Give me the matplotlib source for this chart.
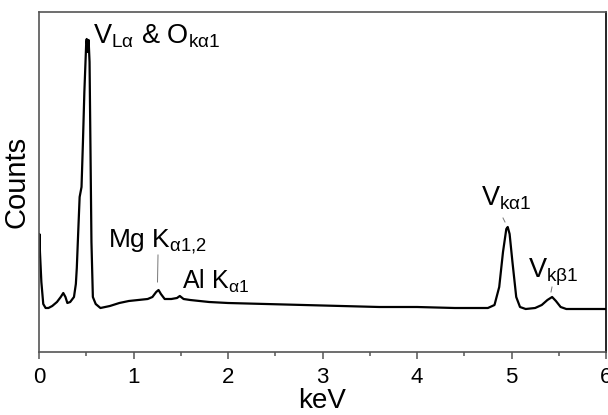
import matplotlib
matplotlib.use("Agg")
import matplotlib.pyplot as plt
from matplotlib.ticker import MultipleLocator

plt.rcParams['font.family'] = ['Liberation Sans', 'DejaVu Sans']
plt.rcParams['mathtext.fontset'] = 'custom'
plt.rcParams['mathtext.rm'] = 'Liberation Sans'
plt.rcParams['mathtext.it'] = 'Liberation Sans:italic'

# EDS spectrum (keV vs counts, arbitrary units)
energy_kev = [0.000, 0.004, 0.010, 0.025, 0.045, 0.07, 0.10, 0.14, 0.19, 0.23, 0.257, 0.28,
              0.30, 0.33, 0.37, 0.39, 0.40, 0.415, 0.43, 0.44, 0.45, 0.465, 0.48, 0.500,
              0.505, 0.515, 0.525, 0.535, 0.545, 0.555, 0.57, 0.60, 0.65, 0.75, 0.85, 0.95,
              1.05, 1.15, 1.20, 1.24, 1.265, 1.29, 1.33, 1.40, 1.46, 1.49, 1.53, 1.60, 1.80,
              2.00, 2.40, 2.80, 3.20, 3.60, 4.00, 4.40, 4.75, 4.82, 4.87, 4.91, 4.945, 4.96,
              4.98, 5.01, 5.05, 5.09, 5.15, 5.25, 5.32, 5.38, 5.43, 5.47, 5.52, 5.58, 5.80, 6.00]
counts = [96, 118, 100, 70, 48, 44, 44, 46, 50, 55, 59, 55,
          49, 50, 55, 68, 84, 120, 155, 160, 165, 210, 260, 310,
          313, 300, 312, 290, 200, 110, 55, 48, 44, 46, 49, 51,
          52, 53, 55, 60, 62, 58, 53, 53, 54, 56, 53, 52, 50,
          49, 48, 47, 46, 45, 45, 44, 44, 47, 65, 100, 123, 125,
          118, 90, 55, 45, 43, 44, 47, 52, 55, 51, 45, 43, 43, 43]

x_ticks = [0, 1, 2, 3, 4, 5, 6]

fig = plt.figure(figsize=(6.08, 4.15), dpi=100)
ax = fig.add_axes([39/608, 1-352/415, (606-39)/608, (352-12)/415])
ax.plot(energy_kev, counts, color='black', lw=1.6)
ax.set_xlim(0, 6)
ax.set_ylim(0, 340)
ax.set_xticks(x_ticks)
ax.xaxis.set_minor_locator(MultipleLocator(0.5))
ax.set_yticks([])
ax.tick_params(axis='x', which='major', length=5, width=1.1, color='#555555',
               labelsize=16, pad=6)
ax.tick_params(axis='x', which='minor', length=3, width=1.1, color='#555555')
for s in ax.spines.values():
    s.set_color('#555555')
    s.set_linewidth(1.2)
ax.spines['right'].set_color('black')

ax.set_xlabel('keV', fontsize=20, labelpad=0)
ax.set_ylabel('Counts', fontsize=21, labelpad=6)

def px2kev(px):
    return (px - 39) / 94.5

def py2c(py):
    return 352 - py

ax.text(px2kev(93), py2c(43), r'V$_{\mathrm{L\alpha}}$ & O$_{\mathrm{k\alpha1}}$', fontsize=19.5, va='baseline')
ax.text(px2kev(108), py2c(247), r'Mg K$_{\mathrm{\alpha1{,}2}}$', fontsize=19, va='baseline')
ax.text(px2kev(182), py2c(289), r'Al K$_{\mathrm{\alpha1}}$', fontsize=18, va='baseline')
ax.text(px2kev(481), py2c(205), r'V$_{\mathrm{k\alpha1}}$', fontsize=19.5, va='baseline')
ax.text(px2kev(528), py2c(277), r'V$_{\mathrm{k\beta1}}$', fontsize=19.5, va='baseline')

ax.plot([px2kev(158), px2kev(157.5)], [py2c(255), py2c(282)], color='#777777', lw=0.7)
ax.plot([px2kev(503), px2kev(505)], [py2c(218), py2c(222)], color='#777777', lw=0.7)
ax.plot([px2kev(552), px2kev(551)], [py2c(287), py2c(292)], color='#777777', lw=0.7)

fig.savefig('out.png', dpi=100)
